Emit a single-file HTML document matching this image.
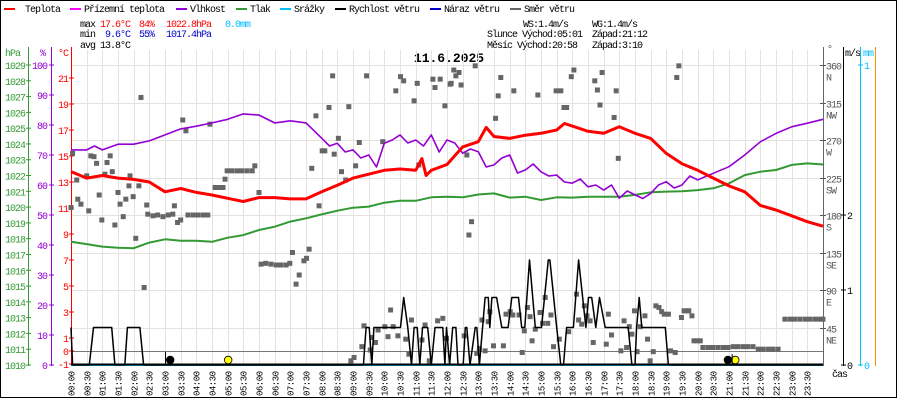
<!DOCTYPE html>
<html><head><meta charset="utf-8"><style>
html,body{margin:0;padding:0;background:#fff;}
svg{display:block;font-family:"Liberation Mono",monospace;}
</style></head><body>
<svg id="chart" width="900" height="400" viewBox="0 0 900 400" xmlns="http://www.w3.org/2000/svg">
<rect x="0.5" y="0.5" width="896" height="397" fill="#fff" stroke="#000"/>
<g font-size="10" letter-spacing="-1">
<g><rect x="4" y="8" width="11" height="2" fill="#ff0000"/><text x="25" y="12">Teplota</text></g>
<g><rect x="70" y="8" width="11" height="2" fill="#ff00ff"/><text x="84" y="12">Přízemní teplota</text></g>
<g><rect x="176" y="8" width="11" height="2" fill="#9400d3"/><text x="190" y="12">Vlhkost</text></g>
<g><rect x="236" y="8" width="11" height="2" fill="#339933"/><text x="250" y="12">Tlak</text></g>
<g><rect x="280" y="8" width="11" height="2" fill="#00bfff"/><text x="294" y="12">Srážky</text></g>
<g><rect x="335" y="8" width="11" height="2" fill="#000"/><text x="349" y="12">Rychlost větru</text></g>
<g><rect x="430" y="8" width="11" height="2" fill="#0000cc"/><text x="444" y="12">Náraz větru</text></g>
<g><rect x="510" y="8" width="11" height="2" fill="#666"/><text x="524" y="12">Směr větru</text></g>
</g>
<g font-size="10" letter-spacing="-1">
<text x="80" y="27">max <tspan fill="#ff0000">17.6°C</tspan></text>
<text x="139" y="27" fill="#ff0000">84%</text>
<text x="166" y="27" fill="#ff0000">1022.8hPa</text>
<text x="225" y="27" fill="#00bfff">0.0mm</text>
<text x="80" y="37">min <tspan fill="#0000cc" dx="5">9.6°C</tspan></text>
<text x="139" y="37" fill="#0000cc">55%</text>
<text x="166" y="37" fill="#0000cc">1017.4hPa</text>
<text x="80" y="48">avg 13.8°C</text>
<text x="523" y="27">WS:1.4m/s</text>
<text x="592" y="27">WG:1.4m/s</text>
<text x="487" y="37">Slunce Východ:05:01</text>
<text x="592" y="37">Západ:21:12</text>
<text x="487" y="48">Měsíc  Východ:20:58</text>
<text x="592" y="48">Západ:3:10</text>
</g>
<text x="449" y="62" font-size="13" font-weight="bold" text-anchor="middle">11.6.2025</text>
<g id="grid"></g>
<g id="axes"></g>
<g id="series"></g>
<g id="xlabels" font-size="9" letter-spacing="-0.5"></g>
</svg>
<script>
const tempT=[0,30,60,90,120,150,180,210,240,270,300,330,360,390,420,450,480,510,540,570,600,630,660,672,680,690,720,750,780,795,810,840,870,900,930,945,960,990,1020,1050,1080,1110,1140,1170,1200,1230,1260,1290,1320,1350,1380,1410,1440];
const tempV=[13.8,13.3,13.5,13.3,13.2,13.0,12.25,12.5,12.2,12.0,11.75,11.5,11.8,11.8,11.7,11.7,12.25,12.75,13.3,13.6,13.9,14.0,13.9,14.8,13.5,13.9,14.35,15.7,16.1,17.2,16.5,16.35,16.6,16.75,17.0,17.5,17.3,16.9,16.75,17.25,16.75,16.35,15.2,14.4,13.9,13.3,12.7,12.25,11.2,10.85,10.4,9.95,9.6];
const humT=[0,30,45,60,90,120,150,180,210,240,270,300,330,360,390,420,450,480,495,510,525,540,555,570,585,600,615,630,645,660,675,690,705,720,735,750,765,780,795,810,825,840,855,870,885,900,915,930,945,960,975,990,1005,1020,1035,1050,1065,1080,1095,1110,1125,1140,1155,1170,1185,1200,1230,1260,1290,1320,1350,1380,1410,1440];
const humV=[71.7,71.7,73,71.7,73.6,73.6,74.7,76.7,78.7,79.6,80.7,81.9,83.7,83.3,80.7,81.4,80.7,75.6,73,73.9,71,71.7,69,70,66,73.9,75,76.7,74,75,73,76.7,71,75,74,70.6,72,71.1,66,66.7,69,70,64,65,67,64.4,63,63.3,61,60.6,62,59.4,60,58.3,60,55.6,58,56.7,55.5,57.2,60,61.1,59,60,63,61.7,63.9,66.1,70,74.4,77.2,79.4,80.6,81.9];
const presT=[0,30,60,90,120,150,180,210,240,270,300,330,360,390,420,450,480,510,540,570,600,630,660,690,720,750,780,810,840,870,900,930,960,990,1020,1050,1080,1110,1140,1170,1200,1230,1260,1290,1320,1350,1380,1410,1440];
const presV=[1017.8,1017.66,1017.5,1017.43,1017.4,1017.75,1017.96,1017.87,1017.87,1017.8,1018.06,1018.23,1018.55,1018.76,1019.08,1019.29,1019.54,1019.77,1019.96,1020.03,1020.28,1020.4,1020.4,1020.62,1020.66,1020.62,1020.8,1020.87,1020.6,1020.66,1020.45,1020.62,1020.6,1020.66,1020.66,1020.66,1020.77,1020.94,1020.98,1021.0,1021.08,1021.19,1021.5,1022.03,1022.24,1022.35,1022.67,1022.77,1022.7];
const windT=[0,3,35,43,78,84,103,108,132,139,560,565,571,576,580,583,631,637,645,652,657,663,668,673,683,690,697,707,712,716,719,725,731,737,741,751,755,758,764,774,777,782,793,799,802,806,815,825,837,844,857,863,869,878,889,901,914,917,930,938,943,949,962,972,986,991,997,1005,1012,1023,1067,1074,1080,1083,1088,1093,1138,1144,1440];
const windV=[0.5,0,0,0.5,0.5,0,0,0.5,0.5,0,0,0.5,0.5,0,0.5,0.5,0.5,0.9,0.5,0,0.5,0.5,0,0.5,0.5,0,0.5,0.5,0.5,0,0.5,0,0.5,0.5,0,0,0.5,0.5,0,0.5,0.5,0,0.9,0.9,0.5,0.9,0.9,0.5,0.5,0.9,0.9,0.5,0.5,1.4,0.5,0.5,1.4,1.4,0.5,0,0,0.5,0.5,1.4,0.5,0.9,0.9,0.5,0.9,0.5,0.5,0,0,0.5,0.9,0.5,0.5,0,0];
const dirT=[0,3,11,13,19,30,34,38,44,49,54,59,65,69,75,79,84,90,94,100,105,111,113,119,124,130,134,140,145,147,157,166,176,186,195,198,204,210,214,220,224,234,243,253,262,266,276,283,291,295,299,308,318,327,337,347,352,360,364,373,383,393,402,412,419,424,431,437,446,451,456,461,469,475,481,486,494,501,504,512,518,526,532,536,542,545,552,557,561,566,573,576,583,588,597,601,607,612,617,622,626,631,637,641,647,652,657,663,666,672,678,686,693,697,702,707,712,716,719,726,728,733,737,743,747,753,758,762,767,774,777,782,787,793,799,802,809,813,818,823,828,833,841,846,848,858,864,868,874,879,883,889,894,898,903,908,913,919,924,929,935,938,944,949,953,958,963,968,972,978,983,988,994,1000,1003,1008,1013,1017,1025,1029,1035,1040,1044,1048,1053,1059,1064,1069,1074,1079,1084,1090,1099,1104,1109,1115,1120,1126,1131,1136,1144,1148,1157,1160,1164,1169,1174,1180,1183,1189,1193,1199,1205,1210,1220,1229,1239,1249,1258,1268,1277,1287,1296,1306,1316,1325,1335,1344,1354,1367,1377,1386,1396,1406,1415,1425,1434,1440];
const dirD=[189,254,222,199,193,227,185,251,250,242,204,174,229,243,251,232,168,207,193,178,199,215,227,202,152,215,321,93,192,181,179,180,178,180,181,191,171,174,294,281,180,180,180,180,180,289,213,213,213,223,233,233,233,233,233,233,239,207,121,122,121,120,120,120,122,135,97,108,125,128,139,236,299,191,257,257,309,347,253,272,232,222,310,5,9,239,267,22,47,347,18,33,27,42,268,46,34,66,46,329,35,346,341,31,13,54,317,338,240,30,48,5,343,333,53,343,56,311,32,337,338,354,347,351,336,35,252,156,172,359,14,20,54,17,52,64,23,296,323,345,23,61,64,60,329,60,15,41,69,58,29,43,324,63,50,81,50,60,22,329,31,329,309,309,40,346,354,85,54,49,71,59,53,27,341,330,312,351,25,61,36,297,329,248,17,53,21,46,37,65,16,46,59,31,5,16,71,69,64,61,61,17,15,345,359,57,65,65,65,59,29,29,29,21,21,21,21,21,21,22,22,22,22,22,19,19,19,19,19,55,55,55,55,55,55,55,55,55];
const tempTicks=[21,19,17,15,13,11,9,7,5,3,1,0,-1];
const humTicks=[100,90,80,70,60,50,40,30,20,10,0];
const presTicks=[1029,1028,1027,1026,1025,1024,1023,1022,1021,1020,1019,1018,1017,1016,1015,1014,1013,1012,1011,1010];
const dirTicks=[360,315,270,225,180,135,90,45];
const dirNames=["N","NW","W","SW","S","SE","E","NE"];
const windTicks=[2,1,0];

const NS="http://www.w3.org/2000/svg";
const X0=71,X1=823;
const xOf=m=>X0+m/1440*(X1-X0);
const yT=t=>351-13*t;
const yH=h=>365-3*h;
const yP=p=>365-(p-1010)*300/19;
const yW=v=>365-75*v;
const yD=d=>365-d*300/360;
function mk(tag,attrs,parent){const e=document.createElementNS(NS,tag);for(const k in attrs)e.setAttribute(k,attrs[k]);parent.appendChild(e);return e;}
const grid=document.getElementById('grid'),axes=document.getElementById('axes'),series=document.getElementById('series'),xl=document.getElementById('xlabels');

for(let i=0;i<=48;i++){const x=Math.round(xOf(i*30))+0.5;
 const l=mk('line',{x1:x,y1:50,x2:x,y2:365,stroke:'#e6e0e0','stroke-width':1},grid);
 
 
 if(i<48){const hh=String(Math.floor(i/2)).padStart(2,'0'),mm=i%2?'30':'00';
  const t=mk('text',{x:0,y:0,transform:`translate(${x+3},396) rotate(-90)`},xl);t.textContent=hh+':'+mm;
  
  }
}
dirTicks.forEach((d,i)=>{const y=Math.round(yD(d))+0.5;
 const l=mk('line',{x1:X0,y1:y,x2:X1,y2:y,stroke:'#e6e0e0'},grid);
 
 
 const t=mk('text',{x:826,y:y+4,'font-size':10,'letter-spacing':-1,fill:'#555'},axes);t.textContent=d;
 
 
 const n=mk('text',{x:826,y:y+15,'font-size':10,'letter-spacing':-1,fill:'#555'},axes);n.textContent=dirNames[i];
 
 
 mk('line',{x1:820,y1:y,x2:826,y2:y,stroke:'#555'},axes);
});
const zl=mk('line',{x1:X0,y1:351.5,x2:X1,y2:351.5,stroke:'#777'},grid);



[[28.5,'#339933'],[51.5,'#9400d3'],[71.5,'#ff0000'],[823.5,'#666'],[843.5,'#000'],[860.5,'#00bfff'],[875.5,'#ff8c00']].forEach(([x,c])=>{
 const l=mk('line',{x1:x,y1:47,x2:x,y2:366,stroke:c,'stroke-width':1},axes);
 
 });
presTicks.forEach(p=>{const y=yP(p);const t=mk('text',{x:25,y:y+4,'text-anchor':'end','font-size':10,'letter-spacing':-1,fill:'#339933'},axes);t.textContent=p;
 
 
 mk('line',{x1:26,y1:y,x2:31,y2:y,stroke:'#339933'},axes);});
humTicks.forEach(h=>{const y=yH(h);const t=mk('text',{x:47,y:y+4,'text-anchor':'end','font-size':10,'letter-spacing':-1,fill:'#9400d3'},axes);t.textContent=h;
 
 
 mk('line',{x1:49,y1:y,x2:54,y2:y,stroke:'#9400d3'},axes);});
tempTicks.forEach(v=>{const y=yT(v);const t=mk('text',{x:68,y:y+4,'text-anchor':'end','font-size':10,'letter-spacing':-1,fill:'#ff0000'},axes);t.textContent=v;
 
 
 mk('line',{x1:69,y1:y,x2:74,y2:y,stroke:'#ff0000'},axes);});
windTicks.forEach(v=>{const y=yW(v);const t=mk('text',{x:847,y:y+4,'font-size':10,fill:'#000'},axes);t.textContent=v;
 
 
 mk('line',{x1:841,y1:y,x2:846,y2:y,stroke:'#000'},axes);});
[[1,65],[0,365]].forEach(([v,y])=>{const t=mk('text',{x:864,y:y+4,'font-size':10,fill:'#00bfff'},axes);t.textContent=v;
 
 
 mk('line',{x1:858,y1:y,x2:863,y2:y,stroke:'#00bfff'},axes);});
[['hPa',5,56,'#339933'],['%',40,56,'#9400d3'],['°C',58,56,'#ff0000'],['°',827,52,'#555'],['m/s',845,56,'#000'],['mm',863,56,'#00bfff'],['čas',832,377,'#000']].forEach(([s,x,y,c])=>{
 const t=mk('text',{x:x,y:y,'font-size':10,'letter-spacing':-1,fill:c},axes);t.textContent=s;
 
 });

const nDir=Math.min(dirT.length,dirD.length);
for(let i=0;i<nDir;i++){const r=mk('rect',{x:xOf(dirT[i])-2.5,y:yD(dirD[i])-2.5,width:5,height:5,fill:'#666'},series);
 
 }
function line(ts,vs,yf,c,w,name){const d=ts.map((m,i)=>(i?'L':'M')+xOf(m).toFixed(1)+','+yf(vs[i]).toFixed(1)).join(' ');
 const p=mk('path',{d:d,fill:'none',stroke:c,'stroke-width':w,'stroke-linejoin':'round'},series);
 
 }
line(presT,presV,yP,'#339933',2,'pressure-line');
line(humT,humV,yH,'#9400d3',1.6,'humidity-line');
line(tempT,tempV,yT,'#ff0000',3,'temperature-line');
const pr=mk('line',{x1:X0,y1:365,x2:X1,y2:365,stroke:'#00bfff','stroke-width':2},series);


line(windT,windV,yW,'#000',1.5,'wind-speed-line');
const bl=mk('line',{x1:X0,y1:364.5,x2:xOf(1440),y2:364.5,stroke:'#000','stroke-width':2},series);


[[190,'#000','moonset-marker'],[301,'#ffff00','sunrise-marker'],[1258,'#000','moonrise-marker'],[1272,'#ffff00','sunset-marker']].forEach(([m,c,n])=>{
 const e=mk('circle',{cx:xOf(m),cy:360,r:3.8,fill:c,stroke:'#000','stroke-width':0.8},series);
 
 });
mk('line',{x1:xOf(181),y1:352,x2:xOf(181),y2:364,stroke:'#000'},series);
mk('line',{x1:xOf(1266),y1:354,x2:xOf(1266),y2:364,stroke:'#000'},series);
</script>
</body></html>
